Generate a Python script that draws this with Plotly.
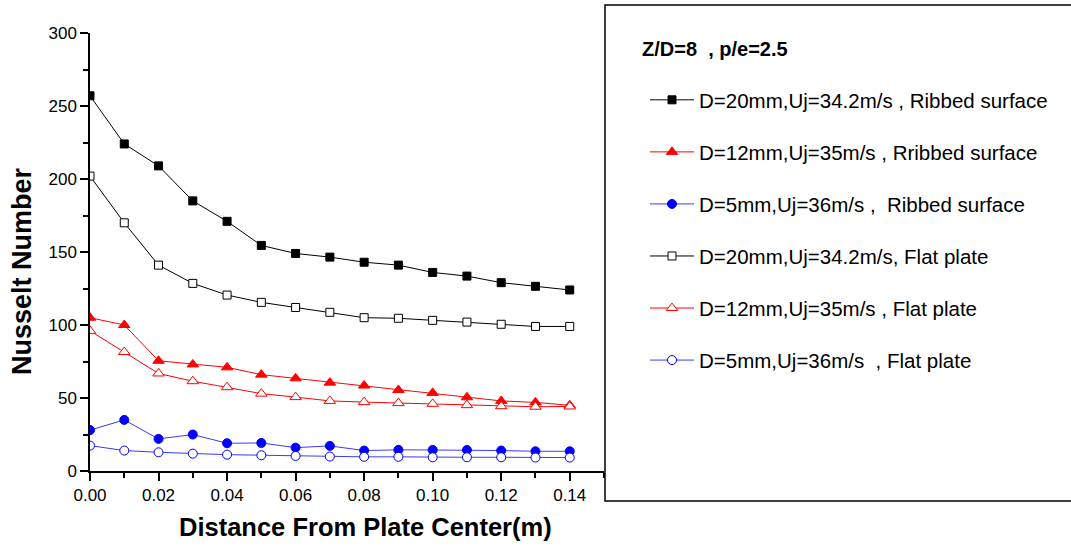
import plotly.graph_objects as go

x_m = [0.00, 0.01, 0.02, 0.03, 0.04, 0.05, 0.06, 0.07, 0.08, 0.09, 0.10, 0.11, 0.12, 0.13, 0.14]

nu_d20_ribbed = [257, 224, 209, 185, 171, 154.5, 149, 146.5, 143, 141, 136, 133.5, 129, 126.5, 124]
nu_d12_ribbed = [105, 100, 75.5, 73, 71, 66, 63.5, 60.5, 58.5, 55.5, 53.5, 50.5, 48, 47, 45]
nu_d5_ribbed = [28, 35, 22, 25, 19, 19.2, 16, 17.2, 14, 14.5, 14.4, 14.4, 14, 13.5, 13.5]
nu_d20_flat = [202, 170, 141, 128.5, 120.5, 115.5, 112, 108.7, 105, 104.6, 103.2, 102, 100.5, 99, 99]
nu_d12_flat = [96, 81.5, 66.8, 61.5, 57.4, 53, 50.6, 48, 47.2, 46.5, 46, 45.1, 44.4, 44, 44.2]
nu_d5_flat = [17.4, 14, 12.8, 11.9, 11.2, 10.8, 10.3, 9.9, 9.7, 9.7, 9.4, 9.4, 9.4, 9.2, 9.2]

series_names = [
    "D=20mm,Uj=34.2m/s , Ribbed surface",
    "D=12mm,Uj=35m/s , Rribbed surface",
    "D=5mm,Uj=36m/s ,\u00a0 Ribbed surface",
    "D=20mm,Uj=34.2m/s, Flat plate",
    "D=12mm,Uj=35m/s , Flat plate",
    "D=5mm,Uj=36m/s\u00a0 , Flat plate",
]
series_values = [nu_d20_ribbed, nu_d12_ribbed, nu_d5_ribbed, nu_d20_flat, nu_d12_flat, nu_d5_flat]
legend_title = "Z/D=8\u00a0 , p/e=2.5"
x_title = "Distance From Plate Center(m)"
y_title = "Nusselt Number"
x_ticks = [0.00, 0.02, 0.04, 0.06, 0.08, 0.10, 0.12, 0.14]
x_ticklabels = ["0.00", "0.02", "0.04", "0.06", "0.08", "0.10", "0.12", "0.14"]
y_ticks = [0, 50, 100, 150, 200, 250, 300]

styles = [
    dict(line="#000000", symbol="square", fill="#000000", edge="#000000", size=8),
    dict(line="#ff0000", symbol="triangle-up", fill="#ff0000", edge="#ff0000", size=10),
    dict(line="#3a3aff", symbol="circle", fill="#0000ff", edge="#0000ff", size=9),
    dict(line="#000000", symbol="square", fill="#ffffff", edge="#000000", size=8),
    dict(line="#ff0000", symbol="triangle-up", fill="#ffffff", edge="#ff0000", size=10),
    dict(line="#3a3aff", symbol="circle", fill="#ffffff", edge="#0000ff", size=9),
]

FONT = "Arial, 'Liberation Sans', sans-serif"

fig = go.Figure()
for i, (name, vals, st) in enumerate(zip(series_names, series_values, styles)):
    fig.add_trace(go.Scatter(
        x=x_m, y=vals, name=name, mode="lines+markers",
        legendgroup=f"g{i}",
        line=dict(color=st["line"], width=1),
        marker=dict(symbol=st["symbol"], size=st["size"], color=st["fill"],
                    line=dict(color=st["edge"], width=1)),
    ))

W, H = 1071, 547
L, R, T, B = 90, 467, 33, 76
pw, ph = W - L - R, H - T - B

def px_x(p):
    return (p - L) / pw

def px_y(p):
    return (H - B - p) / ph

fig.update_layout(
    width=W, height=H,
    margin=dict(l=L, r=R, t=T, b=B, pad=0),
    paper_bgcolor="white", plot_bgcolor="white",
    font=dict(family=FONT, color="black", size=17),
    showlegend=True,
    legend=dict(
        x=px_x(645), y=px_y(80), xanchor="left", yanchor="top",
        font=dict(family=FONT, size=20.5, color="black"),
        bgcolor="rgba(0,0,0,0)", borderwidth=0,
        traceorder="grouped", tracegroupgap=22.4, itemwidth=44,
    ),
    xaxis=dict(
        range=[0, 0.15], tickmode="array", tickvals=x_ticks, ticktext=x_ticklabels,
        showgrid=False, zeroline=False, showline=True, linecolor="black", linewidth=1.5,
        ticks="outside", ticklen=8, tickwidth=1.5, tickcolor="black",
        tickfont=dict(size=17, family=FONT, color="black"),
        minor=dict(dtick=0.01, tick0=0, ticks="outside", ticklen=5, tickwidth=1.5, tickcolor="black", showgrid=False),
    ),
    yaxis=dict(
        range=[0, 300], tickmode="array", tickvals=y_ticks,
        showgrid=False, zeroline=False, showline=True, linecolor="black", linewidth=1.5,
        ticks="outside", ticklen=8, tickwidth=1.5, tickcolor="black",
        tickfont=dict(size=17, family=FONT, color="black"),
        minor=dict(dtick=25, tick0=0, ticks="outside", ticklen=5, tickwidth=1.5, tickcolor="black", showgrid=False),
    ),
    shapes=[dict(type="rect", xref="paper", yref="paper",
                 x0=px_x(605), x1=px_x(1080), y0=px_y(501), y1=px_y(5),
                 line=dict(color="black", width=1.5), fillcolor="rgba(0,0,0,0)", layer="above")],
    annotations=[
        dict(text=f"<b>{y_title}</b>", xref="paper", yref="paper", x=px_x(22), y=px_y(271),
             xanchor="center", yanchor="middle", textangle=-90, showarrow=False,
             font=dict(family=FONT, size=27, color="black")),
        dict(text=f"<b>{x_title}</b>", xref="paper", yref="paper", x=px_x(365), y=px_y(527),
             xanchor="center", yanchor="middle", showarrow=False,
             font=dict(family=FONT, size=25.5, color="black")),
        dict(text=f"<b>{legend_title}</b>", xref="paper", yref="paper", x=px_x(640), y=px_y(49),
             xanchor="left", yanchor="middle", showarrow=False,
             font=dict(family=FONT, size=20, color="black")),
    ],
)

fig.write_html("out.html")
